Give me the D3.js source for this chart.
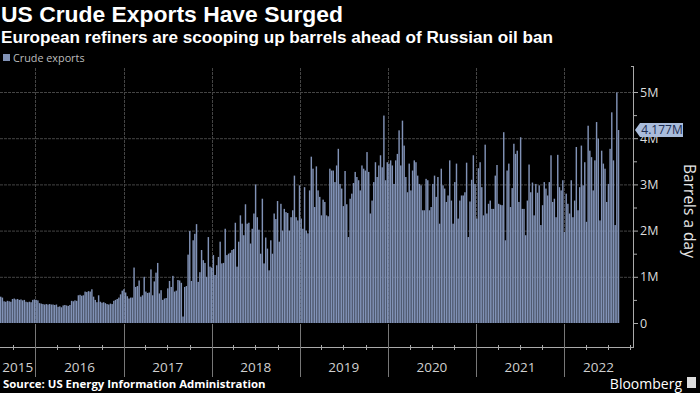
<!DOCTYPE html>
<html><head><meta charset="utf-8">
<script src="https://cdn.jsdelivr.net/npm/d3@7"></script>
<style>
html,body{margin:0;padding:0;background:#000;}
svg{display:block;}
text{font-family:"Open Sans","Noto Sans",sans-serif;}
</style></head>
<body>
<svg id="c" width="700" height="393"></svg>
<script>
// ---- data ----
const title = "US Crude Exports Have Surged";
const subtitle = "European refiners are scooping up barrels ahead of Russian oil ban";
const seriesName = "Crude exports";
const source = "Source: US Energy Information Administration";
const firstWeek = "2015-08-07"; // first weekly observation
// weekly US crude exports, million barrels a day (read from chart)
const exportsM = [
0.57,0.55,0.47,0.46,0.48,0.47,0.46,0.52,0.53,0.51,
0.52,0.50,0.51,0.49,0.50,0.46,0.45,0.46,0.45,0.50,
0.51,0.50,0.49,0.43,0.42,0.41,0.40,0.41,0.40,0.41,
0.40,0.40,0.39,0.40,0.35,0.36,0.34,0.38,0.39,0.38,
0.37,0.39,0.48,0.47,0.49,0.48,0.60,0.61,0.59,0.60,
0.68,0.67,0.69,0.68,0.73,0.57,0.50,0.45,0.60,0.46,
0.44,0.45,0.43,0.41,0.40,0.42,0.41,0.48,0.50,0.52,
0.55,0.62,0.70,0.73,0.66,0.58,0.53,0.55,0.55,1.20,
0.78,0.80,0.92,0.57,0.60,1.00,0.68,0.65,0.66,1.16,
0.60,0.90,1.09,1.30,0.64,0.71,0.50,0.53,0.54,0.75,
0.91,0.78,1.02,0.68,0.70,0.93,0.92,0.87,0.14,0.78,
0.80,1.48,1.99,0.91,1.79,1.93,2.14,0.89,1.10,1.58,
1.36,1.30,1.00,1.86,1.22,1.20,1.47,1.04,1.25,1.43,
1.76,1.29,1.30,2.04,1.47,1.50,1.52,1.58,1.60,2.17,
1.22,1.76,2.33,2.15,1.90,2.57,2.15,2.17,1.72,2.04,
2.37,3.00,2.29,2.02,1.50,2.69,1.29,1.85,1.61,1.14,
1.79,1.50,2.37,2.25,2.64,1.76,2.58,2.00,2.47,2.40,
2.38,2.00,2.29,2.44,3.19,2.29,2.22,2.98,2.26,2.04,
2.94,2.00,1.94,2.87,3.60,3.34,2.51,3.39,2.87,2.73,
2.33,2.67,2.62,2.33,2.31,3.34,3.30,3.30,3.05,3.41,
3.77,3.01,2.91,2.53,3.29,2.57,1.86,2.69,2.80,3.03,
3.27,3.16,3.09,2.87,3.41,3.34,3.30,3.70,3.27,2.37,
2.65,3.05,3.48,3.16,3.41,3.63,3.37,4.49,3.09,3.48,
3.45,3.52,3.41,3.01,3.52,3.66,4.17,3.41,4.38,3.84,
3.16,2.83,3.45,2.87,3.30,3.52,3.48,3.19,3.01,2.98,
2.44,2.44,3.12,3.09,2.44,2.51,3.01,3.19,2.73,3.16,
2.15,3.34,2.98,2.91,2.62,2.76,3.52,2.65,2.15,3.05,
3.45,2.26,2.65,2.76,2.76,2.83,3.47,1.86,2.63,3.10,
3.63,3.01,2.26,3.35,3.48,2.94,2.33,3.86,2.37,2.58,
2.65,2.47,2.47,3.19,3.42,2.58,2.56,2.55,4.13,1.79,
3.30,3.45,2.51,2.92,3.88,3.66,3.73,2.62,4.02,2.47,
2.47,1.90,2.65,3.43,2.83,3.04,2.33,3.01,2.82,2.98,
2.12,2.55,3.05,2.91,2.76,3.05,3.63,2.62,2.69,2.29,
3.64,2.94,2.87,3.09,1.97,2.80,2.58,2.37,3.09,2.29,
2.65,3.81,2.44,2.94,3.84,2.98,3.48,2.19,4.27,3.73,
3.59,2.87,3.52,4.35,3.99,2.22,3.73,3.45,3.34,2.62,
3.01,3.77,4.56,3.52,2.12,4.99,4.177
];
const yTicks = [0, 1, 2, 3, 4, 5];
const yTickLabels = ["0", "1M", "2M", "3M", "4M", "5M"];
const years = [2015, 2016, 2017, 2018, 2019, 2020, 2021, 2022];
const lastLabel = "4.177M";
const axisTitle = "Barrels a day";

// ---- layout ----
const svg = d3.select("#c");
const plotL = 0, plotR = 633, plotT = 68, plotB = 323;
const start = new Date(Date.UTC(2015, 7, 7));
const end = new Date(Date.UTC(2022, 9, 14));
const x = d3.scaleUtc().domain([start, end]).range([plotL, plotR]);
const y = d3.scaleLinear().domain([0, 5]).range([plotB, 92]);

const first = new Date(firstWeek + "T00:00:00Z");
const data = exportsM.map((v, i) => ({ d: d3.utcDay.offset(first, 7 * i), v }));

// gridlines
const g = svg.append("g");
g.selectAll("line.h").data(yTicks.slice(1)).join("line")
  .attr("x1", plotL).attr("x2", plotR)
  .attr("y1", d => y(d) + 0.5).attr("y2", d => y(d) + 0.5)
  .attr("stroke", "#444").attr("stroke-width", 1).attr("stroke-dasharray", "3,1");
const yearStarts = years.slice(1).map(yr => new Date(Date.UTC(yr, 0, 1)));
g.selectAll("line.v").data(yearStarts).join("line")
  .attr("x1", d => Math.round(x(d)) + 0.5).attr("x2", d => Math.round(x(d)) + 0.5)
  .attr("y1", plotT).attr("y2", plotB)
  .attr("stroke", "#444").attr("stroke-width", 1).attr("stroke-dasharray", "3,1");

// bars
svg.append("g").selectAll("rect").data(data).join("rect")
  .attr("x", d => x(d.d))
  .attr("width", d => Math.max(0.5, x(d3.utcDay.offset(d.d, 7)) - x(d.d) - 0.25))
  .attr("y", d => y(d.v))
  .attr("height", d => y(0) - y(d.v))
  .attr("fill", "#8192b6");

// bottom axis
const ax = svg.append("g");
ax.append("line").attr("x1", plotL).attr("x2", plotR).attr("y1", 347.5).attr("y2", 347.5)
  .attr("stroke", "#aaa");
const quarters = d3.utcMonth.every(3).range(start, end);
ax.selectAll("line.q").data(quarters).join("line")
  .attr("x1", d => Math.round(x(d)) + 0.5).attr("x2", d => Math.round(x(d)) + 0.5)
  .attr("y1", 345).attr("y2", 350).attr("stroke", "#aaa");
ax.selectAll("line.sep").data(yearStarts).join("line")
  .attr("x1", d => Math.round(x(d)) + 0.5).attr("x2", d => Math.round(x(d)) + 0.5)
  .attr("y1", plotB + 1).attr("y2", 377).attr("stroke", "#777");
ax.selectAll("text.yr").data(years).join("text")
  .attr("x", yr => {
    const a = Math.max(plotL, x(new Date(Date.UTC(yr, 0, 1))));
    const b = Math.min(plotR, x(new Date(Date.UTC(yr + 1, 0, 1))));
    return (a + b) / 2;
  })
  .attr("y", 372).attr("text-anchor", "middle")
  .attr("fill", "#d0d0d0").attr("font-size", 13.5).text(d => d);

// right axis
const ra = svg.append("g");
ra.append("line").attr("x1", plotR + 0.5).attr("x2", plotR + 0.5).attr("y1", 66).attr("y2", 348)
  .attr("stroke", "#aaa");
const minor = d3.range(0.5, 5.5, 1);
ra.selectAll("line.mt").data(minor).join("line")
  .attr("x1", plotR).attr("x2", plotR + 4)
  .attr("y1", d => y(d) + 0.5).attr("y2", d => y(d) + 0.5).attr("stroke", "#aaa");
ra.selectAll("line.t").data(yTicks).join("line")
  .attr("x1", plotR).attr("x2", plotR + 5)
  .attr("y1", d => y(d) + 0.5).attr("y2", d => y(d) + 0.5).attr("stroke", "#aaa");
ra.append("line").attr("x1", plotR - 2).attr("x2", plotR + 0.5).attr("y1", 66.5).attr("y2", 66.5).attr("stroke", "#aaa");
ra.selectAll("text").data(yTicks).join("text")
  .attr("x", plotR + 7).attr("y", d => y(d)).attr("dy", "0.36em")
  .attr("fill", "#dcdcdc").attr("font-size", 12.5).text((d, i) => yTickLabels[i]);

// last value label
const lv = exportsM[exportsM.length - 1];
const ly = y(lv);
svg.append("path")
  .attr("d", `M${plotR + 2},${ly} L${plotR + 7},${ly - 7} L${plotR + 50},${ly - 7} L${plotR + 50},${ly + 7} L${plotR + 7},${ly + 7} Z`)
  .attr("fill", "#a9bcdb");
svg.append("text").attr("x", plotR + 29).attr("y", ly).attr("dy", "0.36em")
  .attr("text-anchor", "middle").attr("fill", "#1d2d52").attr("font-size", 12).text(lastLabel);

// axis title
svg.append("text").attr("transform", `translate(684,211) rotate(90)`)
  .attr("text-anchor", "middle").attr("fill", "#e6e6e6").attr("font-size", 15.5).text(axisTitle);

// titles
svg.append("text").attr("x", 1).attr("y", 22).attr("fill", "#fff")
  .style("font-family", "'Liberation Sans', Arial, sans-serif")
  .attr("font-size", 22).attr("font-weight", "bold")
  .attr("textLength", 342).attr("lengthAdjust", "spacingAndGlyphs").text(title);
svg.append("text").attr("x", 1).attr("y", 43).attr("fill", "#fff")
  .style("font-family", "'Liberation Sans', Arial, sans-serif")
  .attr("font-size", 16).attr("font-weight", "bold")
  .attr("textLength", 552).attr("lengthAdjust", "spacingAndGlyphs").text(subtitle);

// legend
svg.append("rect").attr("x", 3).attr("y", 54).attr("width", 7).attr("height", 7).attr("fill", "#8192b6");
svg.append("text").attr("x", 13).attr("y", 61.5).attr("fill", "#bdbdbd").attr("font-size", 10.8).text(seriesName);

// footer
svg.append("text").attr("x", 3).attr("y", 388).attr("fill", "#fff")
  .attr("font-size", 11.4).attr("font-weight", "bold").text(source);
svg.append("text").attr("x", 682).attr("y", 389).attr("text-anchor", "end").attr("fill", "#fff")
  .attr("font-size", 14).text("Bloomberg");
svg.append("rect").attr("x", 687).attr("y", 377).attr("width", 9).attr("height", 11).attr("fill", "#ddd");
</script>
</body></html>
